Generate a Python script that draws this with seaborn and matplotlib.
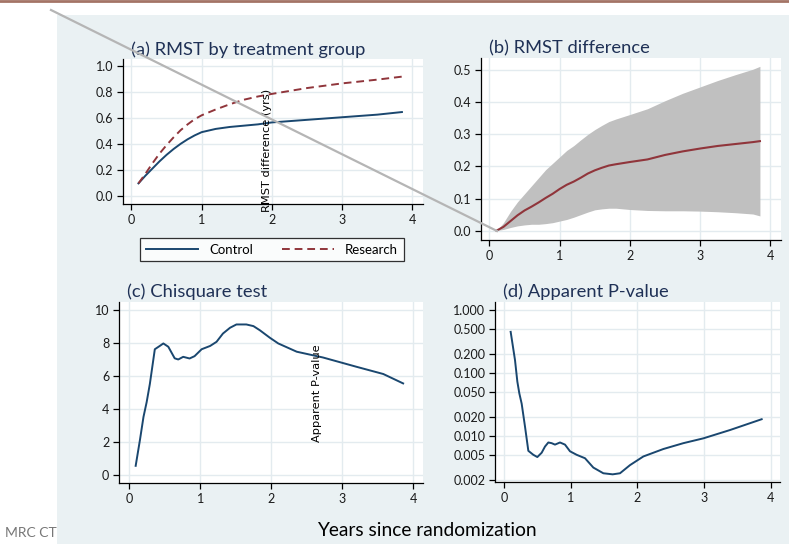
import matplotlib
matplotlib.use("Agg")
import matplotlib.pyplot as plt
from matplotlib.lines import Line2D
from matplotlib.patches import Rectangle
import seaborn as sns
import numpy as np

# ---------------- data ----------------
t_a = [0.1, 0.2, 0.3, 0.4, 0.5, 0.6, 0.7, 0.8, 0.9, 1.0, 1.2, 1.4, 1.6, 1.8, 2.0, 2.5, 3.0, 3.5, 3.85]
control = [0.095, 0.155, 0.21, 0.265, 0.315, 0.36, 0.40, 0.435, 0.465, 0.49, 0.515, 0.53, 0.54,
           0.55, 0.565, 0.585, 0.605, 0.625, 0.645]
research = [0.095, 0.17, 0.25, 0.325, 0.39, 0.45, 0.505, 0.55, 0.59, 0.62, 0.665, 0.705, 0.74,
            0.765, 0.785, 0.83, 0.866, 0.895, 0.918]

t_b = [0.1, 0.2, 0.3, 0.4, 0.5, 0.6, 0.7, 0.8, 0.9, 1.0, 1.1, 1.2, 1.3, 1.4, 1.5, 1.6, 1.7, 1.8,
       2.0, 2.25, 2.5, 2.75, 3.0, 3.25, 3.5, 3.75, 3.85]
diff = [0.0, 0.012, 0.03, 0.048, 0.063, 0.075, 0.088, 0.102, 0.115, 0.13, 0.143, 0.153, 0.165,
        0.178, 0.188, 0.196, 0.203, 0.207, 0.214, 0.222, 0.236, 0.247, 0.256, 0.264, 0.27, 0.276, 0.279]
diff_hi = [0.0, 0.025, 0.06, 0.09, 0.115, 0.14, 0.165, 0.19, 0.21, 0.23, 0.25, 0.265, 0.283, 0.30,
           0.315, 0.328, 0.34, 0.348, 0.362, 0.38, 0.405, 0.428, 0.448, 0.468, 0.486, 0.503, 0.512]
diff_lo = [0.0, 0.004, 0.01, 0.015, 0.018, 0.02, 0.02, 0.022, 0.025, 0.03, 0.035, 0.042, 0.05,
           0.058, 0.065, 0.068, 0.07, 0.07, 0.066, 0.063, 0.062, 0.062, 0.061, 0.059, 0.056, 0.052, 0.046]

t_c = [0.09, 0.15, 0.2, 0.245, 0.29, 0.36, 0.43, 0.48, 0.55, 0.64, 0.69, 0.76, 0.85, 0.92, 1.02,
       1.14, 1.23, 1.32, 1.42, 1.51, 1.65, 1.75, 1.84, 1.98, 2.1, 2.36, 2.73, 3.2, 3.58, 3.86]
chisq = [0.54, 2.1, 3.5, 4.4, 5.5, 7.6, 7.8, 7.95, 7.75, 7.05, 6.98, 7.14, 7.04, 7.18, 7.6,
         7.8, 8.05, 8.55, 8.9, 9.1, 9.1, 9.0, 8.75, 8.3, 7.95, 7.45, 7.1, 6.54, 6.1, 5.53]

t_d = [0.1, 0.165, 0.2, 0.23, 0.265, 0.315, 0.365, 0.44, 0.5, 0.565, 0.615, 0.665, 0.715, 0.765,
       0.84, 0.915, 0.99, 1.09, 1.215, 1.34, 1.49, 1.63, 1.74, 1.89, 2.09, 2.39, 2.69, 2.99, 3.39, 3.865]
pval = [0.454, 0.162, 0.074, 0.048, 0.033, 0.0143, 0.0059, 0.0051, 0.0047, 0.0055, 0.0069, 0.008,
        0.0078, 0.0074, 0.008, 0.0074, 0.0058, 0.0051, 0.0045, 0.0032, 0.0026, 0.0025, 0.0026,
        0.0035, 0.0048, 0.0063, 0.0078, 0.0093, 0.0126, 0.0187]

x_ticks = [0, 1, 2, 3, 4]
a_yticks = [0.0, 0.2, 0.4, 0.6, 0.8, 1.0]
b_yticks = [0.0, 0.1, 0.2, 0.3, 0.4, 0.5]
c_yticks = [0, 2, 4, 6, 8, 10]
d_yticks = [0.002, 0.005, 0.010, 0.020, 0.050, 0.100, 0.200, 0.500, 1.000]

titles = ["(a) RMST by treatment group", "(b) RMST difference", "(c) Chisquare test", "(d) Apparent P-value"]
legend_labels = ["Control", "Research"]

# ---------------- style ----------------
W, H = 789, 544
NAVY = "#1a476f"
MAROON = "#90353b"
TITLE_C = "#1f3156"
GRID_C = "#e3ebef"
PANEL_C = "#eaf1f3"
TFONT = ["Lato", "DejaVu Sans"]

fig = plt.figure(figsize=(W / 100, H / 100), dpi=100)
fig.patch.set_facecolor("white")


def px_axes(l, t, r, b):
    return fig.add_axes([l / W, 1 - b / H, (r - l) / W, (b - t) / H])


def style(ax, xlim, ylim, yticks, yfmt, title, log=False):
    ax.set_facecolor("white")
    if log:
        ax.set_yscale("log")
    ax.set_xlim(*xlim)
    ax.set_ylim(*ylim)
    ax.set_xticks(x_ticks)
    ax.set_xticklabels([str(v) for v in x_ticks])
    ax.set_yticks(yticks)
    ax.set_yticklabels([yfmt(v) for v in yticks])
    ax.minorticks_off()
    ax.grid(True, color=GRID_C, linewidth=1.0)
    ax.set_axisbelow(True)
    for s in ["top", "right"]:
        ax.spines[s].set_visible(False)
    for s in ["left", "bottom"]:
        ax.spines[s].set_color("black")
        ax.spines[s].set_linewidth(0.9)
    ax.tick_params(axis="both", direction="out", length=4, width=0.9, color="black",
                   labelsize=9, labelcolor="#1a1a1a", pad=3)
    for lab in ax.get_xticklabels() + ax.get_yticklabels():
        lab.set_family(TFONT)
    ax.set_xlabel("")
    ax.set_ylabel("")
    ax.text(0.027, 1.01, title, transform=ax.transAxes, ha="left", va="bottom",
            fontsize=13.2, color=TITLE_C, family=TFONT)


# background panel and top rule
fig.add_artist(Rectangle((57 / W, 0), 1 - 57 / W, 1 - 15 / H, transform=fig.transFigure,
                         facecolor=PANEL_C, edgecolor="none", zorder=-1))
fig.add_artist(Line2D([0, 1], [1 - 1 / H, 1 - 1 / H], transform=fig.transFigure,
                      color="#a47466", linewidth=2, zorder=5))
fig.text(5 / W, 1 - 533 / H, "MRC CTU", fontsize=10, color="#777777", family=TFONT,
         ha="left", va="center", zorder=-2)

# (a)
ax_a = px_axes(123, 59, 423, 204)
sns.lineplot(x=t_a, y=control, ax=ax_a, color=NAVY, linewidth=1.4, legend=False)
sns.lineplot(x=t_a, y=research, ax=ax_a, color=MAROON, linewidth=1.4, legend=False)
ax_a.lines[1].set_dashes([4, 2.5])
style(ax_a, (-0.12, 4.15), (-0.064, 1.054), a_yticks, lambda v: f"{v:.1f}", titles[0])
handles = [Line2D([], [], color=NAVY, linewidth=1.4),
           Line2D([], [], color=MAROON, linewidth=1.4, dashes=[4, 2.5])]
leg = fig.legend(handles, legend_labels, loc="center", ncol=2,
                 bbox_to_anchor=(272 / W, 1 - 249.5 / H),
                 frameon=True, fancybox=False, handlelength=3.95,
                 borderpad=0.45, borderaxespad=0, columnspacing=2.2, handletextpad=0.8,
                 prop={"family": TFONT, "size": 9.5})
leg.get_frame().set_edgecolor("black")
leg.get_frame().set_linewidth(0.9)

# (b)
ax_b = px_axes(481, 58, 781, 240)
ax_b.fill_between(t_b, diff_lo, diff_hi, color="#c0c0c0", linewidth=0, zorder=2)
sns.lineplot(x=t_b, y=diff, ax=ax_b, color=MAROON, linewidth=1.5, zorder=3)
style(ax_b, (-0.12, 4.15), (-0.029, 0.538), b_yticks, lambda v: f"{v:.1f}", titles[1])

# (c)
ax_c = px_axes(119, 302, 423, 483)
sns.lineplot(x=t_c, y=chisq, ax=ax_c, color=NAVY, linewidth=1.4)
style(ax_c, (-0.145, 4.14), (-0.5, 10.46), c_yticks, lambda v: f"{v:d}", titles[2])

# (d)
ax_d = px_axes(495, 302, 780, 482)
sns.lineplot(x=t_d, y=pval, ax=ax_d, color=NAVY, linewidth=1.4)
style(ax_d, (-0.135, 4.14), (0.00189, 1.35), d_yticks, lambda v: f"{v:.3f}", titles[3], log=True)

# stray rotated labels
fig.text(267 / W, 1 - 150 / H, "RMST difference (yrs)", rotation=90, ha="center", va="center",
         fontsize=8.2, color="black", family=["DejaVu Sans"], zorder=6)
fig.text(317 / W, 1 - 393 / H, "Apparent P-value", rotation=90, ha="center", va="center",
         fontsize=8.2, color="black", family=["DejaVu Sans"], zorder=6)

# common x label
fig.text(427 / W, 1 - 530 / H, "Years since randomization", ha="center", va="center",
         fontsize=13.8, color="black", family=TFONT)

# pointer line
fig.add_artist(Line2D([51 / W, 497 / W], [1 - 10 / H, 1 - 231 / H], transform=fig.transFigure,
                      color="#b5b5b5", linewidth=1.6, zorder=10))

fig.savefig("out.png", dpi=100, facecolor=fig.get_facecolor())
